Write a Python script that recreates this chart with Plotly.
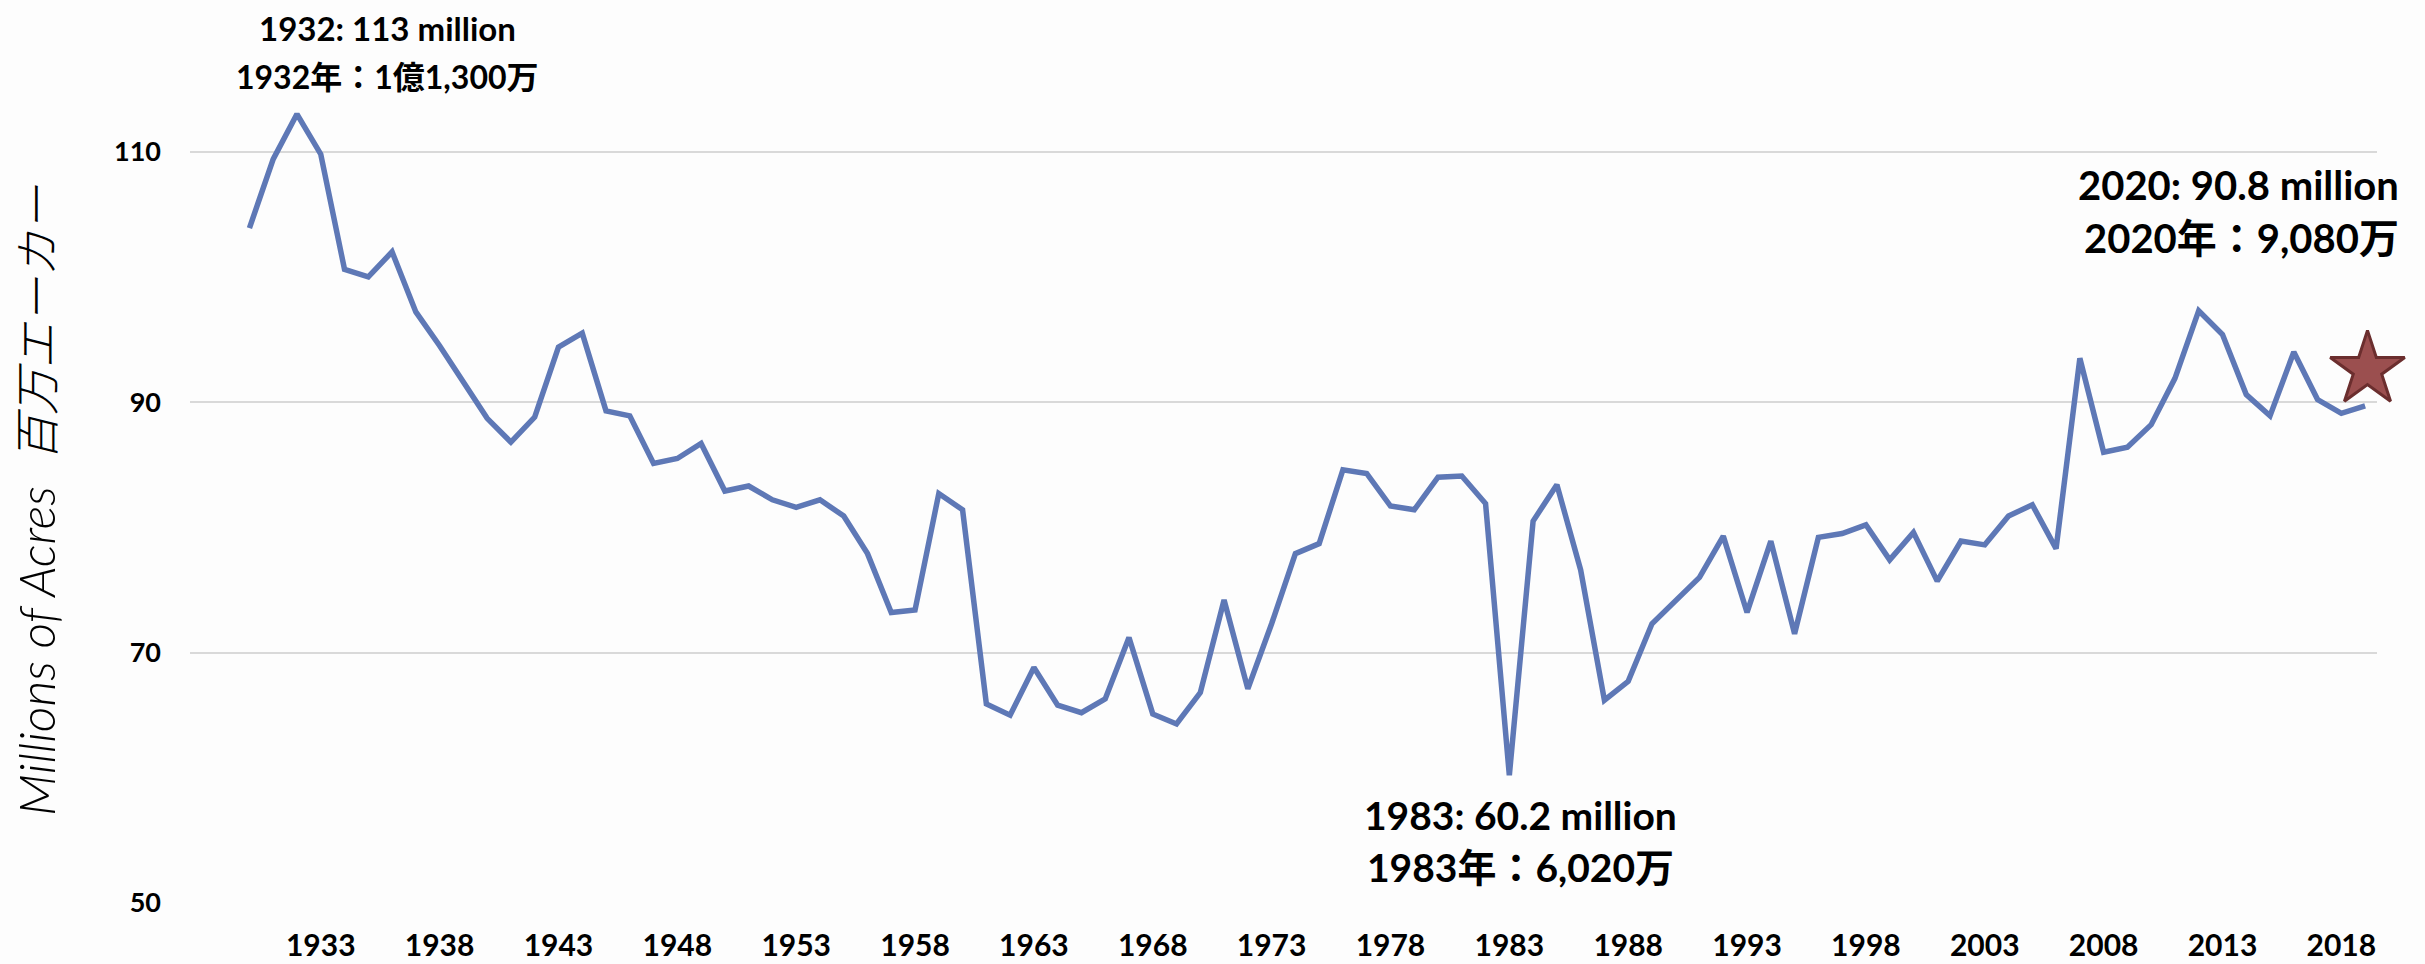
import plotly.graph_objects as go

years = list(range(1930, 2020))
acres = [103.9, 109.4, 113.0, 109.8, 100.6, 100.0, 102.0, 97.2, 94.5, 91.6,
         88.7, 86.8, 88.8, 94.4, 95.5, 89.3, 88.9, 85.1, 85.5, 86.7,
         82.9, 83.3, 82.2, 81.6, 82.2, 80.9, 77.9, 73.2, 73.4, 82.7,
         81.4, 65.9, 65.0, 68.8, 65.8, 65.2, 66.3, 71.2, 65.1, 64.3,
         66.8, 74.2, 67.1, 72.3, 77.9, 78.7, 84.6, 84.3, 81.7, 81.4,
         84.0, 84.1, 81.9, 60.2, 80.5, 83.4, 76.6, 66.2, 67.7, 72.3,
         74.2, 76.0, 79.3, 73.2, 78.9, 71.5, 79.2, 79.5, 80.2, 77.4,
         79.6, 75.7, 78.9, 78.6, 80.9, 81.8, 78.3, 93.5, 86.0, 86.4,
         88.2, 91.9, 97.3, 95.4, 90.6, 88.9, 94.0, 90.2, 89.1, 89.7]

star_x = [2019.1]
star_y = [92.6]

x_tick_vals = list(range(1933, 2019, 5))
x_tick_text = [str(v) for v in x_tick_vals]
y_tick_vals = [50, 70, 90, 110]
y_tick_text = ["50", "70", "90", "110"]

note_1932 = ["1932: 113 million", "1932年：1億1,300万"]
note_1983 = ["1983: 60.2 million", "1983年：6,020万"]
note_2020 = ["2020: 90.8 million", "2020年：9,080万"]
y_title_en = "Millions of Acres"
y_title_ja = "百万エーカー"

W, H = 2425, 964
ML, MR, MT, MB = 190, 48, 64, 61
PW, PH = W - ML - MR, H - MT - MB


def px(xp, yp):
    return (xp - ML) / PW, (H - MB - yp) / PH


fig = go.Figure()
fig.add_trace(go.Scatter(
    x=years, y=acres, mode="lines",
    line=dict(color="#5E78B6", width=5.5),
    hoverinfo="skip", showlegend=False))
fig.add_trace(go.Scatter(
    x=star_x, y=star_y, mode="markers",
    marker=dict(symbol="star", size=56, color="#9B4F4F",
                line=dict(color="#6B2E2E", width=3)),
    hoverinfo="skip", showlegend=False, cliponaxis=False))

lato = "Lato, Noto Sans CJK JP"

annos = []


def add_note(lines, xp, ys, anchor, sizes):
    for t, yp, size in zip(lines, ys, sizes):
        ax, ay = px(xp, yp)
        annos.append(dict(text=t, x=ax, y=ay, xref="paper", yref="paper",
                          xanchor=anchor, yanchor="middle", showarrow=False,
                          font=dict(family=lato, size=size, color="black", weight="bold")))


add_note(note_1932, 387, [28, 77], "center", [33, 32])
add_note(note_1983, 1520, [815, 867], "center", [39, 39])
add_note(note_2020, 2401, [185, 238], "right", [40, 40])

for txt, yc, sz in [(y_title_en, 651, 50), (y_title_ja, 323, 46)]:
    tx, ty = px(36, yc)
    annos.append(dict(text=txt, x=tx, y=ty, xref="paper", yref="paper",
                      xanchor="center", yanchor="middle", showarrow=False, textangle=-90,
                      font=dict(family=lato, size=sz, color="black", style="italic", weight=300)))

fig.update_layout(
    width=W, height=H,
    margin=dict(l=ML, r=MR, t=MT, b=MB, pad=0, autoexpand=False),
    paper_bgcolor="#fdfdfd", plot_bgcolor="#fdfdfd",
    annotations=annos,
    xaxis=dict(range=[1927.5, 2019.5], tickvals=x_tick_vals, ticktext=x_tick_text,
               showgrid=False, zeroline=False, showline=False, ticks="", automargin=False,
               tickfont=dict(family="Lato", size=30, color="black", weight="bold"),
               ticklabelstandoff=22),
    yaxis=dict(range=[50, 117], tickvals=y_tick_vals, ticktext=y_tick_text,
               showgrid=True, gridcolor="#d9d9d9", gridwidth=2, automargin=False,
               zeroline=False, showline=False, ticks="",
               tickfont=dict(family="Lato", size=27, color="black", weight="bold"),
               ticklabelstandoff=28),
)

fig.write_html("out.html", config={"displayModeBar": False},
               post_script="document.body.style.margin='0';document.body.style.padding='0';"
                           "document.body.style.background='#fdfdfd';")
